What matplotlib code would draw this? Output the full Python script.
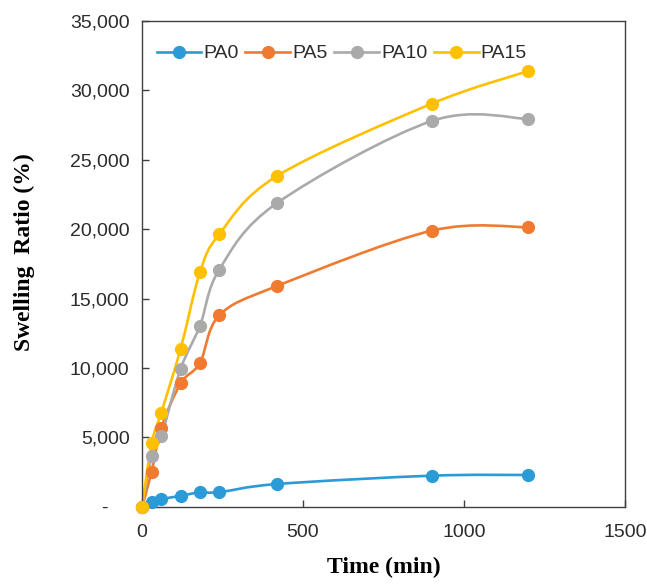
import numpy as np
import matplotlib
matplotlib.use("Agg")
import matplotlib.pyplot as plt
from matplotlib.path import Path
from matplotlib.patches import PathPatch
from matplotlib.lines import Line2D
from matplotlib.ticker import FuncFormatter

# swelling ratio (%) vs time (min)
time_min = [0, 30, 60, 120, 180, 240, 420, 900, 1200]
pa0 = [0, 320, 550, 800, 1050, 1060, 1650, 2250, 2300]
pa5 = [0, 2550, 5700, 8900, 10380, 13800, 15920, 19900, 20150]
pa10 = [0, 3650, 5100, 9950, 13050, 17100, 21900, 27800, 27950]
pa15 = [0, 4600, 6800, 11400, 16900, 19650, 23850, 29050, 31400]

names = ["PA0", "PA5", "PA10", "PA15"]
colors = ["#2A9BD6", "#F07A2F", "#AAAAAA", "#FFC000"]


def smooth_path(x, y):
    # Catmull-Rom through the points, written as cubic bezier segments
    pts = np.column_stack([x, y]).astype(float)
    n = len(pts)
    verts = [pts[0]]
    codes = [Path.MOVETO]
    for i in range(n - 1):
        p0 = pts[max(i - 1, 0)]
        p1 = pts[i]
        p2 = pts[i + 1]
        p3 = pts[min(i + 2, n - 1)]
        verts += [p1 + (p2 - p0) / 6, p2 - (p3 - p1) / 6, p2]
        codes += [Path.CURVE4] * 3
    return Path(verts, codes)


plt.rcParams["font.family"] = ["Liberation Sans", "DejaVu Sans"]

fig = plt.figure(figsize=(6.47, 5.84), dpi=100)
ax = fig.add_axes([0.2195, 0.132, 0.7465, 0.832])

handles = []
for vals, name, c in zip([pa0, pa5, pa10, pa15], names, colors):
    ax.add_patch(PathPatch(smooth_path(time_min, vals), facecolor="none",
                           edgecolor=c, lw=1.9, clip_on=False))
    ax.plot(time_min, vals, "o", color=c, markersize=8.5, clip_on=False, zorder=3)
    handles.append(Line2D([], [], color=c, lw=1.9, marker="o", markersize=8.5))

ax.set_xlim(0, 1500)
ax.set_ylim(0, 35000)
ax.set_xticks([0, 500, 1000, 1500])
ax.set_yticks(np.arange(0, 35001, 5000))


def fmt_y(v, pos):
    if v == 0:
        return "-    "
    return "{:,.0f}".format(v)


ax.yaxis.set_major_formatter(FuncFormatter(fmt_y))
ax.tick_params(direction="in", length=5, width=1, colors="#404040",
               labelsize=14, labelcolor="#2b2b2b")
ax.tick_params(axis="y", pad=9)
ax.tick_params(axis="x", pad=12)
for sp in ax.spines.values():
    sp.set_color("#404040")
    sp.set_linewidth(1)

ax.set_xlabel("Time (min)", family="Liberation Serif", fontweight="bold", fontsize=17)
ax.set_ylabel("Swelling  Ratio (%)", family="Liberation Serif", fontweight="bold", fontsize=17)
ax.xaxis.set_label_coords(0.5, -0.103)
ax.yaxis.set_label_coords(-0.222, 0.525)

ax.legend(handles, names, loc="center left", bbox_to_anchor=(0.01, 0.933),
          ncol=4, frameon=False, fontsize=14, numpoints=1, borderpad=0,
          handlelength=2.3, handletextpad=0.1, columnspacing=0.35,
          labelcolor="#2b2b2b")

fig.savefig("out.png", dpi=100, facecolor="white")
